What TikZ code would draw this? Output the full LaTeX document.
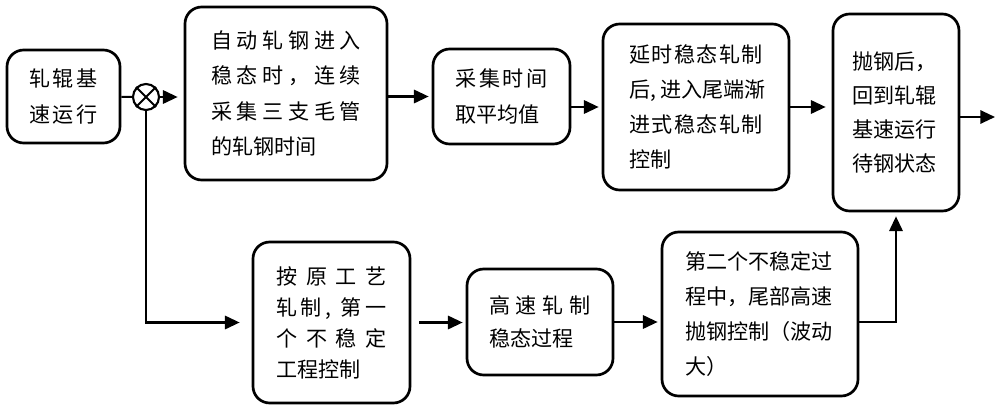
\documentclass[tikz,border=0pt]{standalone}
\usepackage{fontspec}
\setmainfont{Noto Sans CJK SC}
\usetikzlibrary{arrows.meta}
\makeatletter
% spread one line of characters over the full text width
\newcommand\sline[1]{\makebox[\hsize][s]{\sl@first#1\relax}}
\def\sl@first#1{#1\sl@next}
\def\sl@next#1{\ifx\relax#1\else\hfil#1\expandafter\sl@next\fi}
\makeatother
\begin{document}
\begin{tikzpicture}[x=0.3mm,y=-0.3mm,
        box/.style={draw,line width=2.3pt,rounded corners=5mm,inner sep=0pt,align=left,
            font=\fontsize{18pt}{30pt}\selectfont},
        link/.style={line width=1.8pt},
        arr/.style={link,-{Triangle[length=4.4mm,width=4mm]},shorten >=0.9mm}]
        \useasboundingbox (0,0) rectangle (1000,410);
        %% Upper row
        \node[box,minimum width=33.9mm,minimum height=27.9mm,text width=20.4mm] (base) at (63.5,96.5)
            {\sline{轧辊基}\\\sline{速运行}};
        \node[draw,circle,line width=1.8pt,minimum size=7.8mm,inner sep=0pt] (mix) at (146,97) {};
        \node[box,minimum width=60.6mm,minimum height=51.9mm,text width=45mm] (collect) at (286,93.5)
            {\sline{自动轧钢进入}\\\sline{稳态时，连续}\\\sline{采集三支毛管}\\的轧钢时间};
        \node[box,minimum width=41.1mm,minimum height=28.5mm,text width=27.6mm,
            font=\fontsize{18pt}{31.5pt}\selectfont] (average) at (501.5,96.5)
            {\sline{采集时间}\\取平均值};
        \node[box,minimum width=55.8mm,minimum height=49.8mm,text width=40.2mm] (tail) at (696,107)
            {\sline{延时稳态轧制}\\\sline{后{,\hspace{0.2em}}进入尾端渐}\\\sline{进式稳态轧制}\\控制};
        \node[box,minimum width=37.8mm,minimum height=59.1mm,text width=26mm,
            font=\fontsize{18pt}{29pt}\selectfont] (back) at (896,112.5)
            {抛钢后，\\回到轧辊\\基速运行\\待钢状态};
        %% Lower row
        \node[box,minimum width=47.1mm,minimum height=48.3mm,text width=33mm,
            font=\fontsize{18pt}{26.5pt}\selectfont] (orig) at (331.5,322.5)
            {\sline{按原工艺}\\\sline{轧制{,\hspace{0.3em}}第一}\\\sline{个不稳定}\\工程控制};
        \node[box,minimum width=43.8mm,minimum height=31.8mm,text width=30.6mm,
            font=\fontsize{18pt}{28pt}\selectfont] (steady) at (540,322)
            {\sline{高速轧制}\\稳态过程};
        \node[box,minimum width=58.8mm,minimum height=49.2mm,text width=45mm] (second) at (760,314)
            {第二个不稳定过\\程中，尾部高速\\抛钢控制（波动\\大）};
        \coordinate (out) at (995,117);
        %% Connectors
        \draw[link] (mix.north west) -- (mix.south east) (mix.north east) -- (mix.south west);
        \draw[link] (base) -- (mix);
        \draw[arr,shorten >=1.8mm] (mix) -- (mix -| collect.west);
        \draw[arr] (collect.east |- average) -- (average);
        \draw[arr] (average.east |- tail) -- (tail);
        \draw[arr,shorten >=1.8mm] (tail) -- (tail -| back.west);
        \draw[arr,shorten >=0pt] (back.east |- out) -- (out);
        \draw[arr,shorten >=3.6mm] (mix) |- (orig);
        \draw[arr,shorten <=2.4mm] (orig) -- (orig -| steady.west);
        \draw[arr] (steady) -- (steady -| second.west);
        \draw[arr,shorten >=1.2mm] (second.east |- steady) -| (back);
\end{tikzpicture}
\end{document}
